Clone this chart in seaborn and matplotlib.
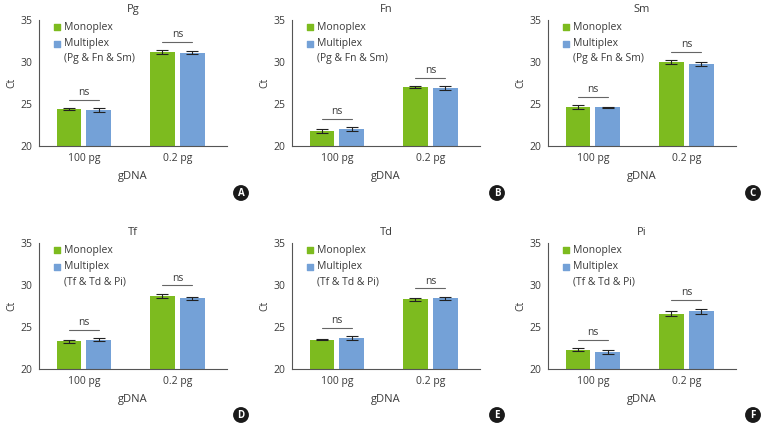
import pandas as pd
import numpy as np
import matplotlib
matplotlib.use("Agg")
import matplotlib.pyplot as plt
import seaborn as sns

# Data (Ct values)
gdna = ["100 pg", "0.2 pg"]
methods = ["Monoplex", "Multiplex"]
targets = ["Pg", "Fn", "Sm", "Tf", "Td", "Pi"]
panel_letters = ["A", "B", "C", "D", "E", "F"]
multiplex_sets = ["(Pg & Fn & Sm)"] * 3 + ["(Tf & Td & Pi)"] * 3

# [100 pg, 0.2 pg]
mono_ct = {
    "Pg": [24.4, 31.2], "Fn": [21.8, 27.0], "Sm": [24.6, 30.0],
    "Tf": [23.3, 28.7], "Td": [23.5, 28.3], "Pi": [22.3, 26.6],
}
multi_ct = {
    "Pg": [24.3, 31.1], "Fn": [22.0, 26.9], "Sm": [24.6, 29.8],
    "Tf": [23.5, 28.4], "Td": [23.7, 28.4], "Pi": [22.0, 26.9],
}
mono_err = {
    "Pg": [0.12, 0.2], "Fn": [0.25, 0.15], "Sm": [0.25, 0.25],
    "Tf": [0.2, 0.25], "Td": [0.1, 0.2], "Pi": [0.2, 0.3],
}
multi_err = {
    "Pg": [0.2, 0.2], "Fn": [0.25, 0.25], "Sm": [0.1, 0.25],
    "Tf": [0.2, 0.15], "Td": [0.2, 0.2], "Pi": [0.25, 0.3],
}

green = "#7dbb1f"
blue = "#74a1d7"
txt = "#3a3a3a"
fs = 7.5

sns.set_style("white")
plt.rcParams["font.family"] = ["Open Sans", "DejaVu Sans"]
plt.rcParams["font.size"] = fs

fig = plt.figure(figsize=(7.64, 4.26), dpi=100)

lefts = [39, 292, 548]
tops = [20, 243]
ax_w, ax_h = 188, 126
circle_x = [241, 497, 753]
circle_y = [193, 415]

for i, t in enumerate(targets):
    r, c = divmod(i, 3)
    ax = fig.add_axes([lefts[c] / 764, 1 - (tops[r] + ax_h) / 426, ax_w / 764, ax_h / 426])

    df = pd.DataFrame({
        "gDNA": gdna * 2,
        "method": [methods[0]] * 2 + [methods[1]] * 2,
        "Ct": mono_ct[t] + multi_ct[t],
        "err": mono_err[t] + multi_err[t],
    })
    sns.barplot(data=df, x="gDNA", y="Ct", hue="method", order=gdna, hue_order=methods,
                palette=[green, blue], saturation=1, width=0.64, gap=0.17, errorbar=None,
                legend=False, ax=ax, edgecolor="none")

    # error bars at bar centres
    tops_by_group = {g: [] for g in range(2)}
    centers_by_group = {g: [] for g in range(2)}
    for cont, errs in zip(ax.containers, [mono_err[t], multi_err[t]]):
        for j, (bar, e) in enumerate(zip(cont, errs)):
            xc = bar.get_x() + bar.get_width() / 2
            h = bar.get_height()
            ax.errorbar(xc, h, yerr=e, color="#222222", capsize=4.5, elinewidth=0.8,
                        capthick=0.8, fmt="none", zorder=5)
            tops_by_group[j].append(h + e)
            centers_by_group[j].append(xc)

    # "ns" brackets
    for j in range(2):
        ly = max(tops_by_group[j]) + 1.0
        x0, x1 = min(centers_by_group[j]), max(centers_by_group[j])
        ax.plot([x0, x1], [ly, ly], color="#666666", lw=0.8)
        ax.text((x0 + x1) / 2, ly + 0.2, "ns", ha="center", va="bottom", fontsize=fs, color=txt)

    ax.set_ylim(20, 35)
    ax.set_yticks([20, 25, 30, 35])
    ax.set_xlim(-0.48, 1.53)
    ax.set_xticks([0, 1])
    ax.set_xticklabels(gdna)
    ax.set_xticks([0.5, 1.53], minor=True)
    ax.tick_params(axis="x", which="major", length=0, pad=5, colors=txt, labelsize=fs)
    ax.tick_params(axis="x", which="minor", direction="in", length=3, width=0.8, color="#555555")
    ax.tick_params(axis="y", length=3, width=0.8, color="#555555", labelcolor=txt, labelsize=fs, pad=2)
    for s in ["top", "right"]:
        ax.spines[s].set_visible(False)
    for s in ["left", "bottom"]:
        ax.spines[s].set_color("#555555")
        ax.spines[s].set_linewidth(0.8)

    ax.set_title(t, fontsize=8, color=txt, pad=6)
    ax.set_ylabel("Ct", color=txt, fontsize=fs, labelpad=2)
    ax.set_xlabel("gDNA", color=txt, fontsize=8, labelpad=5)

    # legend
    ax.scatter([0.096], [0.944], marker="s", s=20, color=green, transform=ax.transAxes, clip_on=False)
    ax.scatter([0.096], [0.81], marker="s", s=20, color=blue, transform=ax.transAxes, clip_on=False)
    ax.text(0.133, 0.944, "Monoplex", transform=ax.transAxes, va="center", ha="left", color=txt, fontsize=fs)
    ax.text(0.133, 0.81, "Multiplex", transform=ax.transAxes, va="center", ha="left", color=txt, fontsize=fs)
    ax.text(0.133, 0.693, multiplex_sets[i], transform=ax.transAxes, va="center", ha="left", color=txt, fontsize=fs)

    fig.text(circle_x[c] / 764, 1 - circle_y[r] / 426, panel_letters[i], ha="center", va="center",
             color="white", fontweight="bold", fontsize=7,
             bbox=dict(boxstyle="circle,pad=0.25", fc="#1a1a1a", ec="none"))

fig.savefig("out.png", dpi=100)
